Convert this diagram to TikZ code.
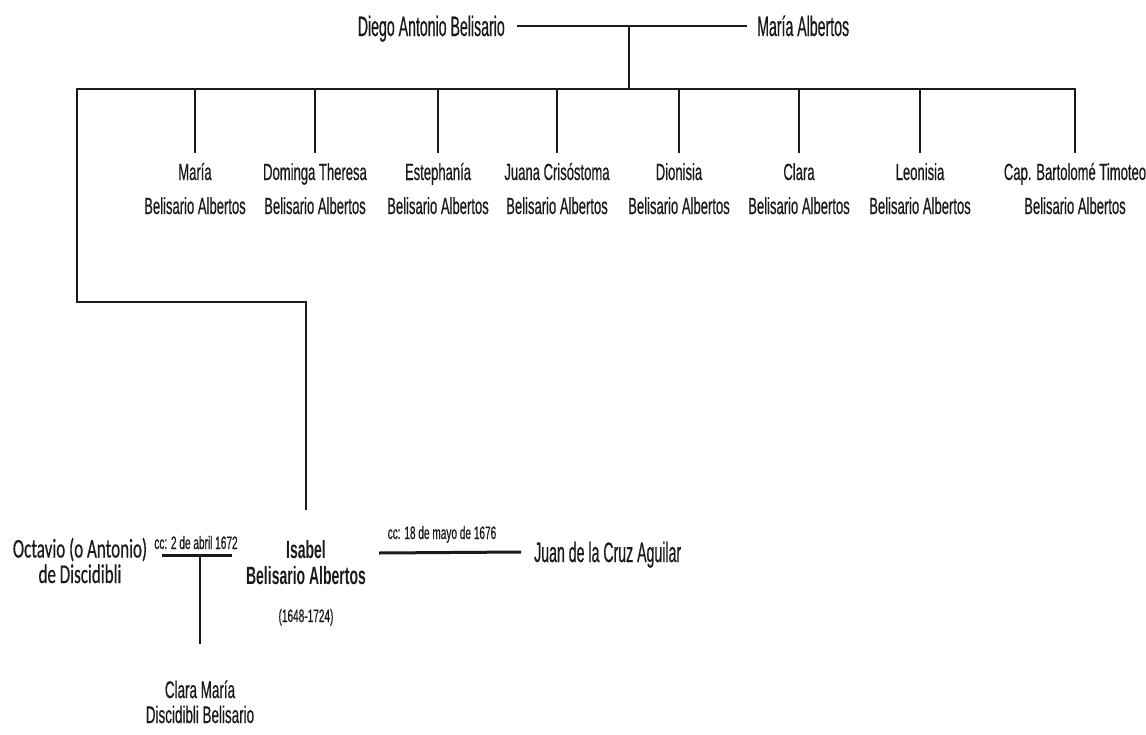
\documentclass[tikz,border=0pt]{standalone}
\usepackage{fontspec}
\setmainfont{Liberation Sans}
\newfontfamily\narrowsans[FakeStretch=0.56, UprightFeatures={FakeBold=0.5}]{Liberation Sans}
\newfontfamily\tallsans[FakeStretch=0.505, UprightFeatures={FakeBold=0.5}]{Liberation Sans}
\newfontfamily\narrowcal[FakeStretch=0.63, UprightFeatures={FakeBold=0.4}]{Carlito}
\usepackage{xcolor}
\usepackage{tikz}
\definecolor{ink}{HTML}{1A1A1A}
\tikzset{
  bar/.style={line width=2.6pt, draw=ink},
  stem/.style={line width=1.9pt, draw=ink},
  wed/.style={line width=3pt, draw=ink},
  pname/.style={text=ink, inner sep=0pt, font=\tallsans\fontsize{28}{30}\selectfont, text height=20pt, text depth=0pt},
  kid/.style={text=ink, inner sep=0pt, align=center, font=\narrowsans\fontsize{23.3}{34}\selectfont},
  ccl/.style={text=ink, inner sep=0pt, font=\narrowsans\fontsize{18}{20}\selectfont},
}

\begin{document}
\begin{tikzpicture}[x=1pt, y=-1pt]
  \useasboundingbox (0,0) rectangle (1146,734);

  \coordinate (barL) at (77,89);    % left end of siblings bar
  \coordinate (barR) at (1075,89);  % right end of siblings bar
  \coordinate (elbow) at (306,302); % bend down to Isabel
  \coordinate (m1w) at (162,555);   % first marriage line
  \coordinate (m1e) at (232,555);
  \coordinate (m2w) at (379,553);   % second marriage line

  % parents
  \node[pname, anchor=base east] (diego) at (505,36) {Diego Antonio Belisario};
  \node[pname, anchor=base west] (maria) at (757,36) {María Albertos};
  \draw[stem] ([xshift=12pt]diego.east) -- ([xshift=-10pt]maria.west);
  \coordinate (pm) at (629,26);
  \draw[stem] (pm) -- (pm |- barL);

  % children (base = last line)
  \node[kid, anchor=base] (c1) at (195,214) {María\\Belisario Albertos};
  \node[kid, anchor=base] (c2) at (315,214) {Dominga Theresa\\Belisario Albertos};
  \node[kid, anchor=base] (c3) at (438,214) {Estephanía\\Belisario Albertos};
  \node[kid, anchor=base] (c4) at (557,214) {Juana Crisóstoma\\Belisario Albertos};
  \node[kid, anchor=base] (c5) at (679,214) {Dionisia\\Belisario Albertos};
  \node[kid, anchor=base] (c6) at (799,214) {Clara\\Belisario Albertos};
  \node[kid, anchor=base] (c7) at (920,214) {Leonisia\\Belisario Albertos};
  \node[kid, anchor=base] (c8) at (1075,214) {Cap. Bartolomé Timoteo\\Belisario Albertos};

  \node[kid, anchor=base, font=\narrowsans\bfseries\fontsize{25}{26}\selectfont] (isabel) at (306,622)
    {Isabel\\Belisario Albertos\\[12pt]{\mdseries\fontsize{18}{20}\selectfont (1648-1724)}};

  \draw[bar] ([yshift=30pt]isabel.north) -- (elbow) -| (barL) -- (barR) -- ([yshift=10pt]c8.north);
  \draw[stem] (c1 |- barL) -- ([yshift=10pt]c1.north);
  \draw[stem] (c2 |- barL) -- ([yshift=10pt]c2.north);
  \draw[stem] (c3 |- barL) -- ([yshift=10pt]c3.north);
  \draw[stem] (c4 |- barL) -- ([yshift=10pt]c4.north);
  \draw[stem] (c5 |- barL) -- ([yshift=10pt]c5.north);
  \draw[stem] (c6 |- barL) -- ([yshift=10pt]c6.north);
  \draw[stem] (c7 |- barL) -- ([yshift=10pt]c7.north);

  % first marriage
  \node[kid, anchor=base, font=\narrowcal\fontsize{27}{25.5}\selectfont] (octavio) at (80,583) {Octavio (o Antonio)\\de Discidibli};
  \node[ccl, anchor=base] (cc1) at (196,549) {cc: 2 de abril 1672};
  \draw[wed] (m1w) -- (m1e);
  \node[kid, anchor=base, font=\narrowsans\fontsize{24}{25}\selectfont] (clara) at (200,723) {Clara María\\Discidibli Belisario};
  \draw[stem] (clara.north |- m1w) -- ([yshift=36pt]clara.north);

  % second marriage
  \node[pname, anchor=base west] (juan) at (534,562) {Juan de la Cruz Aguilar};
  \node[ccl, anchor=base] (cc2) at (442,539) {cc: 18 de mayo de 1676};
  \draw[wed] (m2w) -- ([xshift=-13pt]juan.west);
\end{tikzpicture}
\end{document}
